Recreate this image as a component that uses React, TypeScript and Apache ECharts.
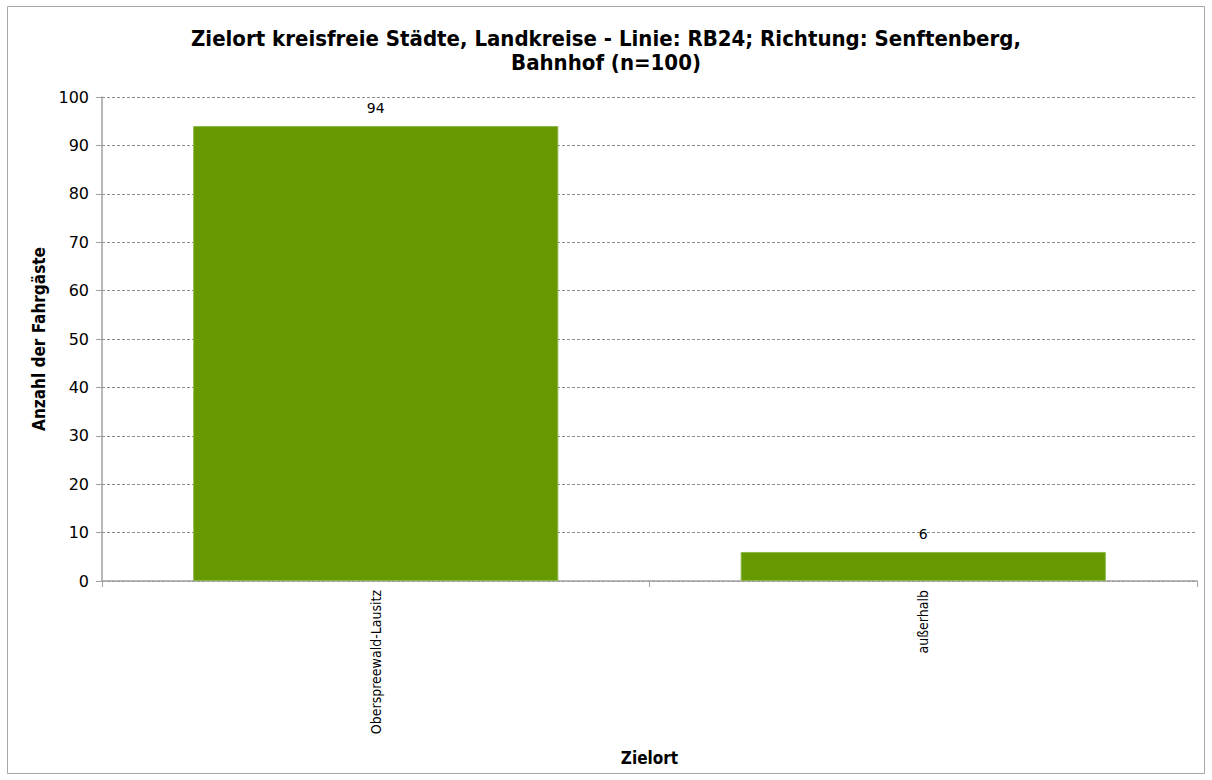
import React, { useEffect, useRef } from "react";
import * as echarts from "echarts";

const categories = ["Oberspreewald-Lausitz", "außerhalb"];
const values = [94, 6];
const titleText = "Zielort kreisfreie Städte, Landkreise - Linie: RB24; Richtung: Senftenberg,\nBahnhof (n=100)";
const cond = "'DejaVu Sans Condensed', 'DejaVu Sans', sans-serif";
const wide = "'DejaVu Sans', sans-serif";

export default function App() {
  const ref = useRef<HTMLDivElement>(null);
  useEffect(() => {
    const chart = echarts.init(ref.current!, null, { renderer: "svg" });
    chart.setOption({
      animation: false,
      backgroundColor: "#ffffff",
      graphic: [
        {
          type: "rect",
          shape: { x: 7.5, y: 6.5, width: 1197, height: 767 },
          style: { fill: "none", stroke: "#a6a6a6", lineWidth: 1 },
          silent: true,
        },
      ],
      title: {
        text: titleText,
        left: "center",
        top: 21,
        textStyle: { fontFamily: cond, fontSize: 22, fontWeight: "bold", color: "#000", lineHeight: 24 },
      },
      grid: { left: 102, right: 15, top: 97, bottom: 199, containLabel: false },
      xAxis: {
        type: "category",
        data: categories,
        name: "Zielort",
        nameLocation: "middle",
        nameGap: 168,
        nameTextStyle: { fontFamily: cond, fontSize: 17, fontWeight: "bold", color: "#000" },
        axisLine: { lineStyle: { color: "#a0a0a0", width: 1.5 } },
        axisTick: { show: true, alignWithLabel: false, length: 6, lineStyle: { color: "#a0a0a0" } },
        axisLabel: { rotate: 90, fontFamily: cond, fontSize: 14, color: "#000", margin: 9 },
      },
      yAxis: {
        type: "value",
        min: 0,
        max: 100,
        interval: 10,
        name: "Anzahl der Fahrgäste",
        nameLocation: "middle",
        nameGap: 55,
        nameTextStyle: { fontFamily: cond, fontSize: 17, fontWeight: "bold", color: "#000" },
        axisLine: { show: true, lineStyle: { color: "#a0a0a0", width: 1.5 } },
        axisTick: { show: true, length: 6, lineStyle: { color: "#a0a0a0" } },
        axisLabel: { fontFamily: wide, fontSize: 16, color: "#000", margin: 13 },
        splitLine: { lineStyle: { color: "#8c8c8c", type: [3, 2], width: 1 } },
      },
      series: [
        {
          type: "bar",
          data: values,
          barWidth: "66.7%",
          itemStyle: { color: "#669900", borderColor: "#8bb84a", borderWidth: 1 },
          label: { show: true, position: "top", distance: 11, fontFamily: wide, fontSize: 14, color: "#000" },
        },
      ],
    });
    return () => chart.dispose();
  }, []);
  return <div ref={ref} style={{ position: "absolute", left: 0, top: 0, width: 1212, height: 780 }} />;
}
